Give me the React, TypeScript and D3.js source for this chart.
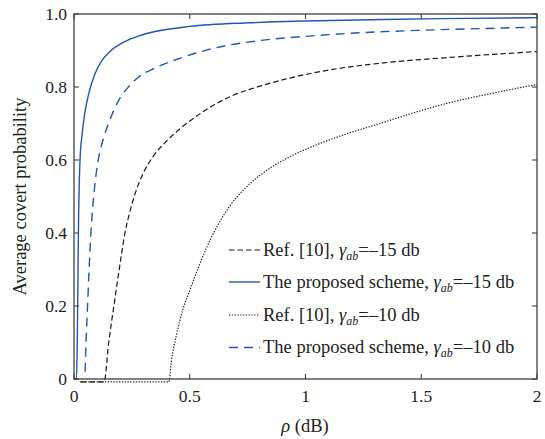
import React from "react";
import * as d3 from "d3";

const xTicks = [0, 0.5, 1, 1.5, 2];
const xTickLabels = ["0", "0.5", "1", "1.5", "2"];
const yTicks = [0, 0.2, 0.4, 0.6, 0.8, 1.0];
const yTickLabels = ["0", "0.2", "0.4", "0.6", "0.8", "1.0"];

const ref15Rho = [0.03, 0.13, 0.15, 0.174, 0.2, 0.22, 0.24, 0.26, 0.3, 0.34, 0.4, 0.47, 0.54, 0.602, 0.69, 0.818, 0.976, 1.106, 1.336, 1.6, 1.8, 2.0];
const ref15Val = [-0.008, -0.008, 0.1, 0.208, 0.32, 0.4, 0.455, 0.5, 0.565, 0.608, 0.652, 0.692, 0.725, 0.75, 0.778, 0.805, 0.831, 0.847, 0.866, 0.88, 0.889, 0.897];

const prop15Rho = [0, 0.011, 0.014, 0.016, 0.019, 0.026, 0.035, 0.045, 0.055, 0.069, 0.09, 0.12, 0.16, 0.213, 0.28, 0.35, 0.5, 0.76, 1.0, 1.336, 1.7, 2.0];
const prop15Val = [0, 0, 0.1, 0.208, 0.4, 0.6, 0.67, 0.722, 0.757, 0.795, 0.835, 0.872, 0.9, 0.922, 0.94, 0.952, 0.966, 0.976, 0.981, 0.985, 0.988, 0.99];

const ref10Rho = [0.025, 0.41, 0.42, 0.444, 0.47, 0.501, 0.54, 0.573, 0.62, 0.674, 0.74, 0.818, 0.92, 1.034, 1.17, 1.322, 1.46, 1.61, 1.8, 2.0];
const ref10Val = [-0.008, -0.008, 0.045, 0.125, 0.19, 0.244, 0.31, 0.36, 0.42, 0.475, 0.523, 0.565, 0.605, 0.638, 0.67, 0.7, 0.728, 0.755, 0.782, 0.807];

const prop10Rho = [0.048, 0.052, 0.059, 0.073, 0.088, 0.105, 0.13, 0.155, 0.19, 0.235, 0.28, 0.35, 0.45, 0.616, 0.8, 1.048, 1.25, 1.48, 1.75, 2.0];
const prop10Val = [0.02, 0.1, 0.208, 0.4, 0.52, 0.6, 0.665, 0.71, 0.76, 0.8, 0.828, 0.852, 0.877, 0.908, 0.927, 0.941, 0.949, 0.955, 0.96, 0.964];

const BLUE = "#2356ad";
const BLACK = "#1a1a1a";
const AXIS = "#404040";
const FONT = '"Liberation Serif"';

const series = [
  { rho: ref15Rho, val: ref15Val, color: BLACK, dash: "5.5,3", width: 1.2, name: "Ref. [10], ", g: "\u201315 db" },
  { rho: prop15Rho, val: prop15Val, color: BLUE, dash: "", width: 1.4, name: "The proposed scheme, ", g: "\u201315 db" },
  { rho: ref10Rho, val: ref10Val, color: BLACK, dash: "1.3,1.5", width: 1.2, name: "Ref. [10], ", g: "\u201310 db" },
  { rho: prop10Rho, val: prop10Val, color: BLUE, dash: "9,6", width: 1.4, name: "The proposed scheme, ", g: "\u201310 db" },
];

export default function App() {
  const W = 545, H = 439;
  const left = 74, right = 537, top = 14, bottom = 379;
  const x = d3.scaleLinear().domain([0, 2]).range([left, right]);
  const y = d3.scaleLinear().domain([0, 1]).range([bottom, top]);
  const line = d3.line<[number, number]>().x(d => x(d[0])).y(d => y(d[1])).curve(d3.curveMonotoneX);
  const tick = 5;
  const legendY = [250, 282, 315, 347.5];
  const txt = { fontFamily: FONT };

  return (
    <svg width={W} height={H} style={{ position: "absolute", left: 0, top: 0, background: "#fff" }}>
      {series.map((s, i) => (
        <path key={i} d={line(s.rho.map((r, j) => [r, s.val[j]] as [number, number])) || ""}
          fill="none" stroke={s.color} strokeWidth={s.width} strokeDasharray={s.dash} />
      ))}
      <rect x={left} y={top} width={right - left} height={bottom - top} fill="none" stroke={AXIS} strokeWidth={1.3} />
      {xTicks.map((t, i) => (
        <g key={"x" + i}>
          <line x1={x(t)} x2={x(t)} y1={bottom} y2={bottom - tick} stroke={AXIS} strokeWidth={1.1} />
          <line x1={x(t)} x2={x(t)} y1={top} y2={top + tick} stroke={AXIS} strokeWidth={1.1} />
          <text x={x(t)} y={402} textAnchor="middle" fontSize={17.5} fill="#222" style={txt}>{xTickLabels[i]}</text>
        </g>
      ))}
      {yTicks.map((t, i) => (
        <g key={"y" + i}>
          <line x1={left} x2={left + tick} y1={y(t)} y2={y(t)} stroke={AXIS} strokeWidth={1.1} />
          <line x1={right} x2={right - tick} y1={y(t)} y2={y(t)} stroke={AXIS} strokeWidth={1.1} />
          <text x={67} y={y(t) + 6} textAnchor="end" fontSize={17.5} fill="#222" style={txt}>{yTickLabels[i]}</text>
        </g>
      ))}
      <text x={305} y={432} textAnchor="middle" fontSize={18.5} fill="#222" style={txt}>
        <tspan fontStyle="italic">ρ</tspan> (dB)
      </text>
      <text transform={`translate(25.5,${(top + bottom) / 2}) rotate(-90)`} textAnchor="middle" fontSize={18.5} fill="#222" style={txt}>
        Average covert probability
      </text>
      {series.map((s, i) => (
        <g key={"l" + i}>
          <line x1={229} x2={260} y1={legendY[i]} y2={legendY[i]} stroke={s.color} strokeWidth={s.width} strokeDasharray={s.dash} />
          <text x={263} y={legendY[i] + 5.5} fontSize={18.5} fill="#222" style={txt}>
            {s.name}
            <tspan fontStyle="italic">γ</tspan>
            <tspan fontStyle="italic" fontSize={12} dy={4}>ab</tspan>
            <tspan dy={-4}>={s.g}</tspan>
          </text>
        </g>
      ))}
    </svg>
  );
}
